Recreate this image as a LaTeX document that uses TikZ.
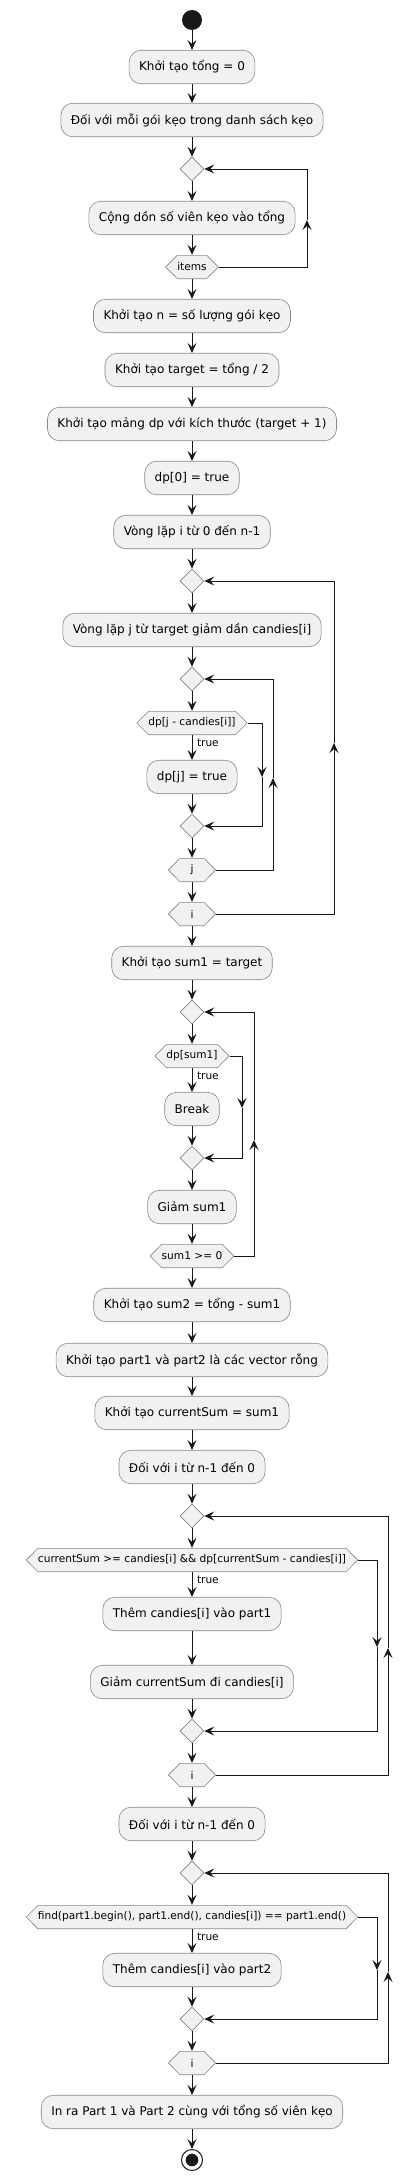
\documentclass[tikz,border=0pt]{standalone}
\usepackage{fontspec}
\setmainfont{DejaVu Sans}
\usepackage{tikz}
\usetikzlibrary{arrows.meta,shapes.geometric}

\definecolor{boxfill}{HTML}{F1F1F1}
\definecolor{boxline}{HTML}{888888}
\definecolor{ink}{HTML}{181818}

\tikzset{
  act/.style={draw=boxline, fill=boxfill, line width=0.6pt, rounded corners=12pt,
    inner xsep=10pt, minimum height=33.5pt, font=\fontsize{12}{14}\selectfont},
  hexa/.style={shape=rectangle, inner xsep=12pt, inner ysep=0pt,
    minimum height=24pt, minimum width=48pt, font=\fontsize{10.6}{13}\selectfont,
    path picture={
      \draw[draw=boxline, fill=boxfill, line width=0.6pt]
        ([xshift=0.4pt]path picture bounding box.west)
        -- ([xshift=12pt,yshift=-0.3pt]path picture bounding box.north west)
        -- ([xshift=-12pt,yshift=-0.3pt]path picture bounding box.north east)
        -- ([xshift=-0.4pt]path picture bounding box.east)
        -- ([xshift=-12pt,yshift=0.3pt]path picture bounding box.south east)
        -- ([xshift=12pt,yshift=0.3pt]path picture bounding box.south west)
        -- cycle;}},
  merge/.style={draw=boxline, fill=boxfill, line width=0.6pt, shape=diamond,
    inner sep=0pt, minimum width=24pt, minimum height=24pt},
  flow/.style={draw=ink, line width=1pt, -{Stealth[length=10pt,width=9pt,inset=4pt]}},
  lbl/.style={font=\fontsize{10.6}{13}\selectfont, anchor=north west, inner sep=0pt,
    xshift=4.5pt, yshift=-3pt},
}

\begin{document}
\begin{tikzpicture}[x=1pt,y=-1pt]
  \useasboundingbox (0,0) rectangle (413,2181);

  % start and first loop over items
  \node[circle, fill=ink, minimum size=20pt, inner sep=0pt] (start) at (192,20) {};
  \node[act] (a1) at (192,67) {Khởi tạo tổng = 0};
  \node[act] (a2) at (192,120) {Đối với mỗi gói kẹo trong danh sách kẹo};
  \node[merge] (d1) at (192,169) {};
  \node[act] (a3) at (192,218) {Cộng dồn số viên kẹo vào tổng};
  \node[hexa] (h1) at (192,267) {items};

  % setup of dp
  \node[act] (a4) at (192,316) {Khởi tạo n = số lượng gói kẹo};
  \node[act] (a5) at (192,370) {Khởi tạo target = tổng / 2};
  \node[act] (a6) at (192,424) {Khởi tạo mảng dp với kích thước (target + 1)};
  \node[act] (a7) at (192,478) {dp[0] = true};
  \node[act] (a8) at (192,532) {Vòng lặp i từ 0 đến n-1};
  \node[merge] (d2) at (192,581) {};
  \node[act] (a9) at (192,630) {Vòng lặp j từ target giảm dần candies[i]};
  \node[merge] (d3) at (192,679) {};
  \node[hexa] (h2) at (192,723) {dp[j - candies[i]]};
  \node[act] (a10) at (192,777) {dp[j] = true};
  \node[merge] (d4) at (192,826) {};
  \node[hexa] (h3) at (192,870) {j};
  \node[hexa] (h4) at (192,914) {i};

  % search for sum1
  \node[act] (a11) at (192,963) {Khởi tạo sum1 = target};
  \node[merge] (d5) at (192,1012) {};
  \node[hexa] (h5) at (192,1056) {dp[sum1]};
  \node[act] (a12) at (192,1109) {Break};
  \node[merge] (d6) at (192,1158) {};
  \node[act] (a13) at (192,1207) {Giảm sum1};
  \node[hexa] (h6) at (192,1256) {sum1 >= 0};

  % building part1 and part2
  \node[act] (a14) at (192,1305) {Khởi tạo sum2 = tổng - sum1};
  \node[act] (a15) at (192,1360) {Khởi tạo part1 và part2 là các vector rỗng};
  \node[act] (a16) at (192,1413) {Khởi tạo currentSum = sum1};
  \node[act] (a17) at (192,1467) {Đối với i từ n-1 đến 0};
  \node[merge] (d7) at (192,1516) {};
  \node[hexa] (h7) at (192,1560) {currentSum >= candies[i] \&\& dp[currentSum - candies[i]]};
  \node[act] (a18) at (192,1614) {Thêm candies[i] vào part1};
  \node[act] (a19) at (192,1682) {Giảm currentSum đi candies[i]};
  \node[merge] (d8) at (192,1731) {};
  \node[hexa] (h8) at (192,1775) {i};
  \node[act] (a20) at (192,1824) {Đối với i từ n-1 đến 0};
  \node[merge] (d9) at (192,1873) {};
  \node[hexa] (h9) at (192,1917) {find(part1.begin(), part1.end(), candies[i]) == part1.end()};
  \node[act] (a21) at (192,1970) {Thêm candies[i] vào part2};
  \node[merge] (d10) at (192,2019) {};
  \node[hexa] (h10) at (192,2063) {i};
  \node[act] (a22) at (192,2112) {In ra Part 1 và Part 2 cùng với tổng số viên kẹo};
  \node[circle, draw=ink, line width=1pt, fill=white, minimum size=21pt, inner sep=0pt] (stop) at (192,2160) {};
  \fill[ink] (stop.center) circle (6.3);

  % straight flow
  \draw[flow] (start) -- (a1);
  \draw[flow] (a1) -- (a2);
  \draw[flow] (a2) -- (d1);
  \draw[flow] (d1) -- (a3);
  \draw[flow] (a3) -- (h1);
  \draw[flow] (h1) -- (a4);
  \draw[flow] (a4) -- (a5);
  \draw[flow] (a5) -- (a6);
  \draw[flow] (a6) -- (a7);
  \draw[flow] (a7) -- (a8);
  \draw[flow] (a8) -- (d2);
  \draw[flow] (d2) -- (a9);
  \draw[flow] (a9) -- (d3);
  \draw[flow] (d3) -- (h2);
  \draw[flow] (h2) -- node[lbl, pos=0] {true} (a10);
  \draw[flow] (a10) -- (d4);
  \draw[flow] (d4) -- (h3);
  \draw[flow] (h3) -- (h4);
  \draw[flow] (h4) -- (a11);
  \draw[flow] (a11) -- (d5);
  \draw[flow] (d5) -- (h5);
  \draw[flow] (h5) -- node[lbl, pos=0] {true} (a12);
  \draw[flow] (a12) -- (d6);
  \draw[flow] (d6) -- (a13);
  \draw[flow] (a13) -- (h6);
  \draw[flow] (h6) -- (a14);
  \draw[flow] (a14) -- (a15);
  \draw[flow] (a15) -- (a16);
  \draw[flow] (a16) -- (a17);
  \draw[flow] (a17) -- (d7);
  \draw[flow] (d7) -- (h7);
  \draw[flow] (h7) -- node[lbl, pos=0] {true} (a18);
  \draw[flow] (a18) -- (a19);
  \draw[flow] (a19) -- (d8);
  \draw[flow] (d8) -- (h8);
  \draw[flow] (h8) -- (a20);
  \draw[flow] (a20) -- (d9);
  \draw[flow] (d9) -- (h9);
  \draw[flow] (h9) -- node[lbl, pos=0] {true} (a21);
  \draw[flow] (a21) -- (d10);
  \draw[flow] (d10) -- (h10);
  \draw[flow] (h10) -- (a22);
  \draw[flow] (a22) -- (stop);

  % back edges and false branches, split where the middle arrow sits
  \coordinate (m1) at (307,220);
  \draw[flow] (h1.east) -| (m1);
  \draw[flow] (m1) |- (d1.east);

  \coordinate (m2) at (262,777);
  \draw[flow] (h2.east) -| (m2);
  \draw[flow] (m2) |- (d4.east);
  \coordinate (m3) at (273,778);
  \draw[flow] (h3.east) -| (m3);
  \draw[flow] (m3) |- (d3.east);
  \coordinate (m4) at (334,743);
  \draw[flow] (h4.east) -| (m4);
  \draw[flow] (m4) |- (d2.east);

  \coordinate (m5) at (242,1108);
  \draw[flow] (h5.east) -| (m5);
  \draw[flow] (m5) |- (d6.east);
  \coordinate (m6) at (254,1140);
  \draw[flow] (h6.east) -| (m6);
  \draw[flow] (m6) |- (d5.east);

  \coordinate (m7) at (377,1647);
  \draw[flow] (h7.east) -| (m7);
  \draw[flow] (m7) |- (d8.east);
  \coordinate (m8) at (388,1648);
  \draw[flow] (h8.east) -| (m8);
  \draw[flow] (m8) |- (d7.east);

  \coordinate (m9) at (377,1970);
  \draw[flow] (h9.east) -| (m9);
  \draw[flow] (m9) |- (d10.east);
  \coordinate (m10) at (388,1972);
  \draw[flow] (h10.east) -| (m10);
  \draw[flow] (m10) |- (d9.east);
\end{tikzpicture}
\end{document}
